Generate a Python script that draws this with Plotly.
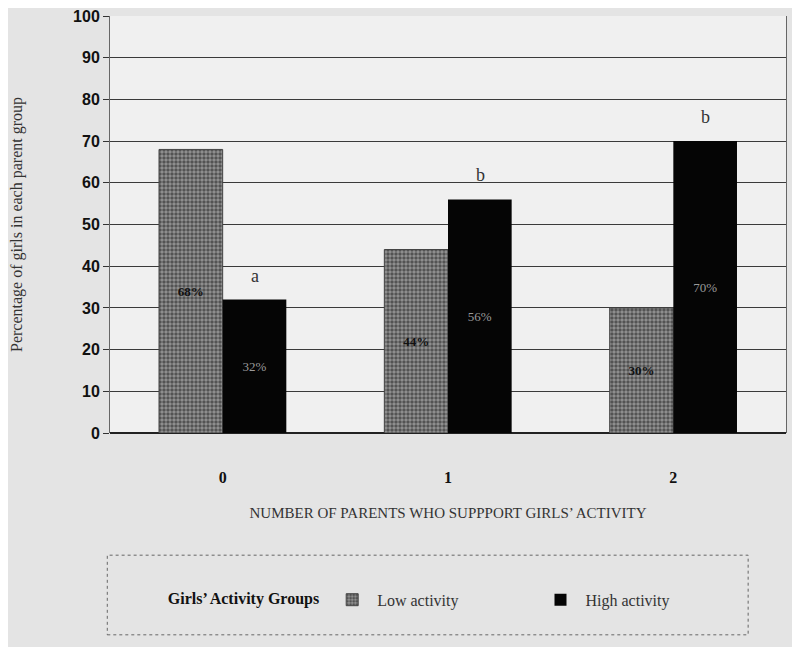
import plotly.graph_objects as go


# Data
categories = ["0", "1", "2"]
low_activity = [68, 44, 30]
high_activity = [32, 56, 70]
sig_letters = ["a", "b", "b"]

serif = "Liberation Serif, Times New Roman, serif"
sans = "Liberation Sans, Arial, sans-serif"

# trailing no-break spaces widen the gap between the two legend entries
legend_pad = "\u00a0" * 18


fig = go.Figure()


fig.add_trace(
    go.Bar(
        x=categories,
        y=low_activity,
        name="Low activity" + legend_pad,
        text=[f"<b>{v}%</b>" for v in low_activity],
        textposition="inside",
        insidetextanchor="middle",
        textangle=0,
        textfont=dict(family=serif, size=13, color="#111111"),
        marker=dict(
            color="#6a6a6a",
            line=dict(color="#444444", width=1),
            pattern=dict(
                shape=".",
                fgcolor="#111111",
                bgcolor="#959595",
                size=4,
                solidity=0.6,
            ),
        ),
    )
)


fig.add_trace(
    go.Bar(
        x=categories,
        y=high_activity,
        name="High activity",
        text=[f"{v}%" for v in high_activity],
        textposition="inside",
        insidetextanchor="middle",
        textangle=0,
        textfont=dict(family=serif, size=13, color="#9a9a9a"),
        marker=dict(color="#050505", line=dict(color="#050505", width=0)),
    )
)


# significance letters above the high-activity bars
for cat, val, letter in zip(categories, high_activity, sig_letters):
    fig.add_annotation(
        x=cat,
        y=val,
        text=letter,
        showarrow=False,
        xshift=32,
        yshift=24,
        font=dict(family=serif, size=18, color="#333333"),
    )


# dotted frame around the legend
fig.add_shape(
    type="rect",
    xref="paper",
    yref="paper",
    x0=-0.004,
    x1=0.944,
    y0=-0.484,
    y1=-0.293,
    line=dict(color="#666666", width=1, dash="dot"),
    fillcolor="rgba(0,0,0,0)",
)


fig.update_layout(
    width=800,
    height=647,
    margin=dict(l=102, r=22, t=8, b=222),
    barmode="group",
    bargap=0.435,
    bargroupgap=0,
    paper_bgcolor="#e4e4e4",
    plot_bgcolor="#f0f0f0",
    showlegend=True,
    legend=dict(
        orientation="h",
        x=0.459,
        xanchor="center",
        y=-0.40,
        yanchor="middle",
        bgcolor="rgba(0,0,0,0)",
        borderwidth=0,
        title=dict(
            text="<b>Girls’ Activity Groups</b>",
            font=dict(family=serif, size=16, color="#111111"),
        ),
        font=dict(family=serif, size=16, color="#333333"),
        itemwidth=40,
    ),
    xaxis=dict(
        type="category",
        automargin=False,
        showgrid=False,
        showline=False,
        ticks="",
        ticklabelstandoff=33,
        tickfont=dict(family=serif, size=16, color="#111111", weight="bold"),
        title=dict(
            text="NUMBER OF PARENTS WHO SUPPPORT GIRLS’ ACTIVITY",
            font=dict(family=serif, size=15, color="#333333"),
            standoff=22,
        ),
    ),
    yaxis=dict(
        range=[0, 100],
        dtick=10,
        automargin=False,
        showgrid=True,
        gridcolor="#3a3a3a",
        gridwidth=1,
        zeroline=True,
        zerolinecolor="#222222",
        zerolinewidth=1.5,
        showline=True,
        linecolor="#666666",
        linewidth=1,
        mirror=True,
        ticks="outside",
        ticklen=6,
        tickcolor="#333333",
        ticklabeloverflow="allow",
        tickfont=dict(family=sans, size=16, color="#111111", weight="bold"),
        title=dict(
            text="Percentage of girls in each parent group",
            font=dict(family=serif, size=16, color="#333333"),
            standoff=50,
        ),
    ),
)


fig.write_html("out.html")
